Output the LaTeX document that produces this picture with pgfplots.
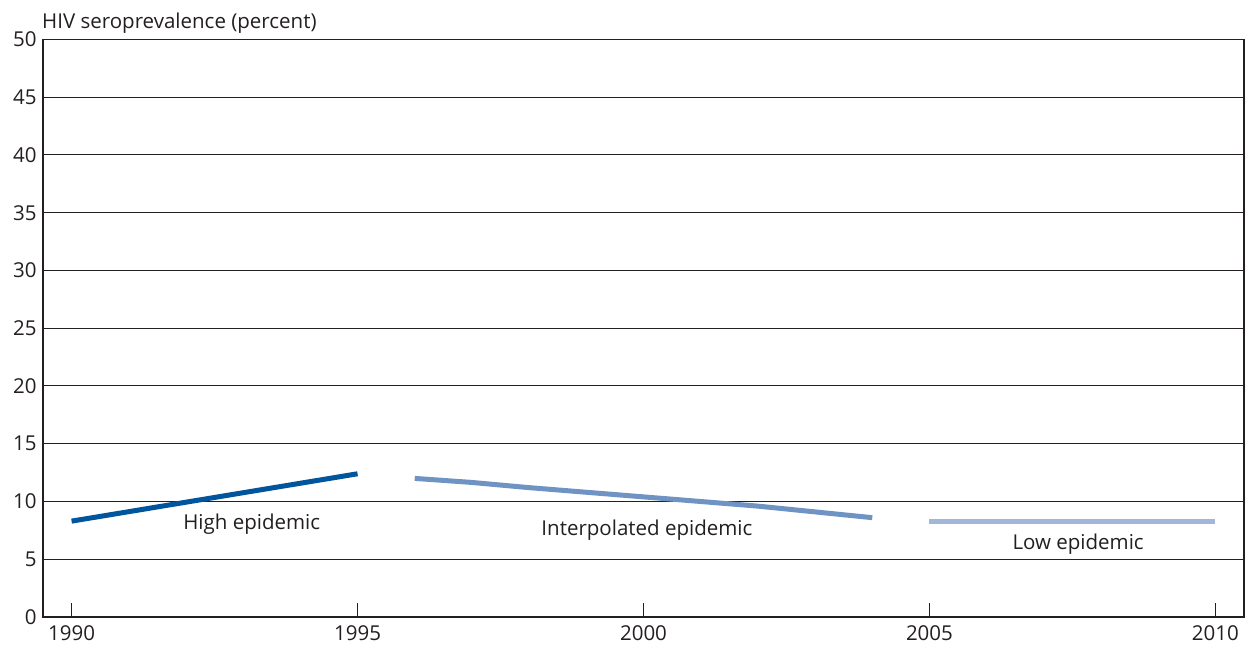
\documentclass[border=0pt]{standalone}
\usepackage{pgfplots}
\pgfplotsset{compat=1.18}
\usepackage{fontspec}
\setmainfont{Open Sans}
\definecolor{highc}{HTML}{00559C}
\definecolor{interc}{HTML}{6F94C4}
\definecolor{lowc}{HTML}{A2B6D8}
\definecolor{txt}{HTML}{231F20}
\newcommand{\fs}{\fontsize{20.5bp}{24bp}\selectfont}
\begin{document}
\begin{tikzpicture}
\begin{axis}[
  name=ax,
  scale only axis,
  width=1201bp, height=577.5bp,
  xmin=1989.5, xmax=2010.5,
  ymin=0, ymax=50,
  xtick={1990,1995,2000,2005,2010},
  ytick={0,5,...,50},
  xticklabel style={/pgf/number format/1000 sep={}},
  /pgf/number format/assume math mode=true,
  tick align=inside,
  xtick pos=bottom,
  major tick length=14bp,
  ytick style={draw=none},
  xtick style={line width=0.9bp, color=txt},
  ymajorgrids,
  grid style={line width=1bp, color=txt},
  axis line style={line width=1.3bp, color=txt},
  every tick label/.append style={font=\fs, text=txt},
  xticklabel style={yshift=-5bp},
  yticklabel style={xshift=-3bp},
  clip=false,
]
\addplot[highc, line width=5bp] coordinates {(1990,8.3) (1995,12.4)};
\addplot[interc, line width=5bp] coordinates {(1996,12.0) (1997,11.65) (1998,11.2) (1999,10.8) (2000,10.4) (2001,10.0) (2002,9.6) (2003,9.1) (2004,8.6)};
\addplot[lowc, line width=5bp] coordinates {(2005,8.25) (2010,8.25)};
\node[font=\fs, text=txt] at (axis cs:1993.15,8.05) {High epidemic};
\node[font=\fs, text=txt] at (axis cs:2000.06,7.49) {Interpolated epidemic};
\node[font=\fs, text=txt] at (axis cs:2007.6,6.28) {Low epidemic};
\end{axis}
\node[anchor=base west, inner sep=0pt, font=\fs, text=txt] at ([xshift=-1bp,yshift=11bp]ax.north west) {HIV seroprevalence (percent)};
\pgfresetboundingbox
\path ([xshift=-43bp,yshift=-37bp]ax.south west) rectangle ([xshift=9bp,yshift=39.5bp]ax.north east);
\end{tikzpicture}
\end{document}
